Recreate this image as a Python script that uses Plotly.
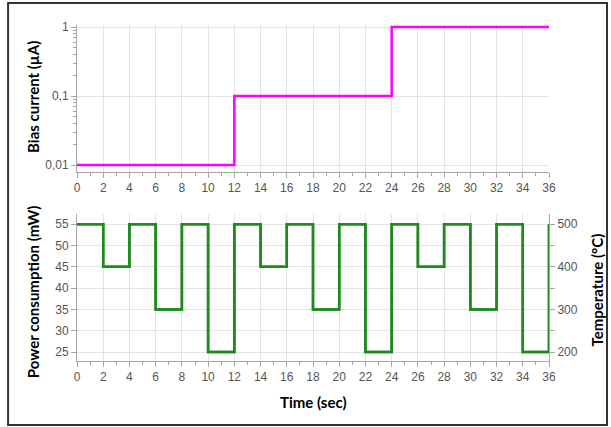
import plotly.graph_objects as go

# top panel: bias current steps
t_bias = [0, 12, 24, 36]
bias_uA = [0.01, 0.1, 1, 1]

# bottom panel: power / temperature every 2 s
t_pow = [0, 2, 4, 6, 8, 10, 12, 14, 16, 18, 20, 22, 24, 26, 28, 30, 32, 34, 36]
power_mW = [55, 45, 55, 35, 55, 25, 55, 45, 55, 35, 55, 25, 55, 45, 55, 35, 55, 25, 55]
temp_C = [500, 400, 500, 300, 500, 200, 500, 400, 500, 300, 500, 200, 500, 400, 500, 300, 500, 200, 500]

x_ticks = list(range(0, 37, 2))
bias_ticks = [0.01, 0.1, 1]
bias_labels = ["0,01", "0,1", "1"]
pow_ticks = [25, 30, 35, 40, 45, 50, 55]
temp_ticks = [200, 300, 400, 500]

tick_font = dict(family="Liberation Sans", size=12, color="#555555")
title_font = dict(family="Lato", size=15, color="black")
axcol = "#a6a6a6"
gridcol = "#e3e3e3"

fig = go.Figure()
fig.add_trace(go.Scatter(x=t_bias, y=bias_uA, mode="lines", line_shape="hv",
                         line=dict(color="#ff00ff", width=2.5), xaxis="x", yaxis="y"))
fig.add_trace(go.Scatter(x=t_pow, y=power_mW, mode="lines", line_shape="hv",
                         line=dict(color="#1e8a1e", width=2.5), xaxis="x2", yaxis="y2"))
fig.add_trace(go.Scatter(x=t_pow, y=temp_C, mode="lines", line_shape="hv",
                         line=dict(color="#1e8a1e", width=2.5), xaxis="x2", yaxis="y3"))

xcommon = dict(range=[0, 36], tickvals=x_ticks, showline=True, linecolor=axcol, linewidth=1,
               ticks="outside", ticklen=5, tickcolor=axcol, showgrid=True, gridcolor=gridcol,
               tickfont=tick_font, zeroline=False,
               minor=dict(ticks="outside", ticklen=3, tickcolor=axcol, dtick=1, showgrid=False))

fig.update_layout(
    width=611, height=427,
    margin=dict(l=77, r=62, t=25, b=66),
    paper_bgcolor="white", plot_bgcolor="white",
    showlegend=False,
    xaxis=dict(xcommon, domain=[0, 1], anchor="y"),
    yaxis=dict(type="log", range=[-2.1, 0.03], domain=[0.5625, 1], anchor="x",
               tickvals=bias_ticks, ticktext=bias_labels, showline=True, linecolor=axcol,
               ticks="outside", ticklen=5, tickcolor=axcol, showgrid=True, gridcolor=gridcol,
               tickfont=tick_font, zeroline=False,
               minor=dict(ticks="outside", ticklen=3, tickcolor=axcol, showgrid=False,
                          tickvals=[0.02, 0.03, 0.04, 0.05, 0.06, 0.07, 0.08, 0.09,
                                    0.2, 0.3, 0.4, 0.5, 0.6, 0.7, 0.8, 0.9])),
    xaxis2=dict(xcommon, domain=[0, 1], anchor="y2"),
    yaxis2=dict(range=[22.9, 57.4], domain=[0, 0.4375], anchor="x2",
                tickvals=pow_ticks, showline=True, linecolor=axcol,
                ticks="outside", ticklen=5, tickcolor=axcol, showgrid=True, gridcolor=gridcol,
                tickfont=tick_font, zeroline=False),
    yaxis3=dict(range=[179, 524], overlaying="y2", side="right", anchor="x2",
                tickvals=temp_ticks, showline=True, linecolor=axcol,
                ticks="outside", ticklen=5, tickcolor=axcol, showgrid=False,
                tickfont=tick_font, zeroline=False,
                minor=dict(ticks="outside", ticklen=5, tickcolor=axcol, dtick=50, showgrid=False)),
)

titles = [
    ("<b>Bias current (µA)</b>", -0.0932, 0.786, -90),
    ("<b>Power consumption (mW)</b>", -0.0932, 0.205, -90),
    ("<b>Temperature (°C)</b>", 1.1017, 0.21, -90),
    ("<b>Time (sec)</b>", 0.5, -0.122, 0),
]
for txt, ax, ay, ang in titles:
    fig.add_annotation(text=txt, xref="paper", yref="paper", x=ax, y=ay, textangle=ang,
                       xanchor="center", yanchor="middle", showarrow=False, font=title_font)

# frame around the whole figure
fig.add_shape(type="rect", xref="paper", yref="paper", x0=-0.146, x1=1.1229,
              y0=-0.1905, y1=1.0655, line=dict(color="#333333", width=2))

fig.write_html("out.html", config={"displayModeBar": False},
               post_script="document.body.style.margin='0';")
